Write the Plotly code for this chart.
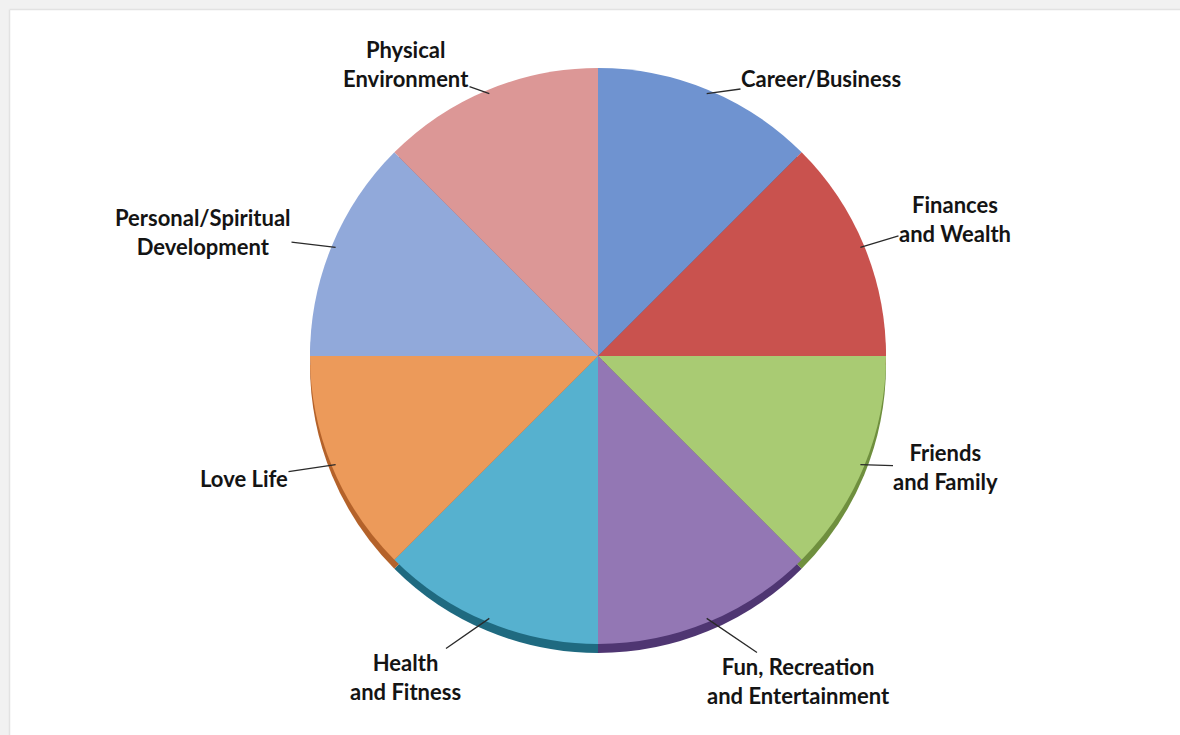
import math
import plotly.graph_objects as go

# ---- data ----
categories = ["Career/Business", "Finances and Wealth", "Friends and Family",
              "Fun, Recreation and Entertainment", "Health and Fitness",
              "Love Life", "Personal/Spiritual Development", "Physical Environment"]
label_text = ["Career/Business", "Finances<br>and Wealth", "Friends<br>and Family",
              "Fun, Recreation<br>and Entertainment", "Health<br>and Fitness",
              "Love Life", "Personal/Spiritual<br>Development", "Physical<br>Environment"]
values = [1, 1, 1, 1, 1, 1, 1, 1]

# ---- style ----
face_colors = ["#6f93d0", "#c9524e", "#a9cb73", "#9377b4",
               "#56b1cf", "#ec9a5a", "#91a9da", "#dc9796"]
rim_colors = ["#3f66a8", "#8e2e2b", "#6f8f3e", "#4f3672",
              "#1f6a80", "#b4622a", "#5a72a6", "#a45f5e"]

W, H = 1180, 735
cx, cy, R = 598, 356, 288
bevel = 9
# label centres (pixels) and leader tip inset
label_pos = [(821, 78), (955, 219), (946, 467), (799, 681),
             (405, 677), (244, 478), (203, 232), (406, 64)]
tip_inset = 4


def dom(cy_px):
    return dict(x=[(cx - R) / W, (cx + R) / W],
                y=[1 - (cy_px + R) / H, 1 - (cy_px - R) / H])


fig = go.Figure()
fig.add_trace(go.Pie(labels=categories, values=values, sort=False,
                     direction="clockwise", rotation=0, domain=dom(cy + bevel),
                     marker=dict(colors=rim_colors, line=dict(width=0)),
                     textinfo="none", hoverinfo="skip", showlegend=False))
fig.add_trace(go.Pie(labels=categories, values=values, sort=False,
                     direction="clockwise", rotation=0, domain=dom(cy),
                     marker=dict(colors=face_colors, line=dict(width=0)),
                     textinfo="none", hoverinfo="label", showlegend=False))

total = sum(values)
acc = 0
annotations = []
for lab, v, (tx, ty) in zip(label_text, values, label_pos):
    mid = (acc + v / 2) / total * 2 * math.pi
    acc += v
    r = R - tip_inset
    px = cx + r * math.sin(mid)
    py = cy - r * math.cos(mid)
    annotations.append(dict(
        x=px / W, y=1 - py / H, xref="paper", yref="paper",
        text="<b>" + lab + "</b>", showarrow=True, arrowhead=0,
        arrowwidth=1.3, arrowcolor="#2a2a2a", standoff=0, startstandoff=0,
        axref="pixel", ayref="pixel", ax=tx - px, ay=ty - py, borderpad=0,
        font=dict(family="Lato", size=22, color="#141414"), align="center"))

shapes = [
    dict(type="rect", xref="paper", yref="paper", x0=0, x1=1, y0=1 - 9 / H, y1=1,
         fillcolor="#f1f1f1", line=dict(width=0), layer="below"),
    dict(type="rect", xref="paper", yref="paper", x0=0, x1=9 / W, y0=0, y1=1,
         fillcolor="#f1f1f1", line=dict(width=0), layer="below"),
    dict(type="line", xref="paper", yref="paper", x0=9.5 / W, x1=1,
         y0=1 - 9.5 / H, y1=1 - 9.5 / H, line=dict(color="#e2e2e2", width=1.5), layer="below"),
    dict(type="line", xref="paper", yref="paper", x0=9.5 / W, x1=9.5 / W,
         y0=0, y1=1 - 9.5 / H, line=dict(color="#e2e2e2", width=1.5), layer="below"),
]

fig.update_layout(width=W, height=H, margin=dict(l=0, r=0, t=0, b=0),
                  paper_bgcolor="white", plot_bgcolor="white",
                  annotations=annotations, shapes=shapes)
fig.write_html("out.html")
